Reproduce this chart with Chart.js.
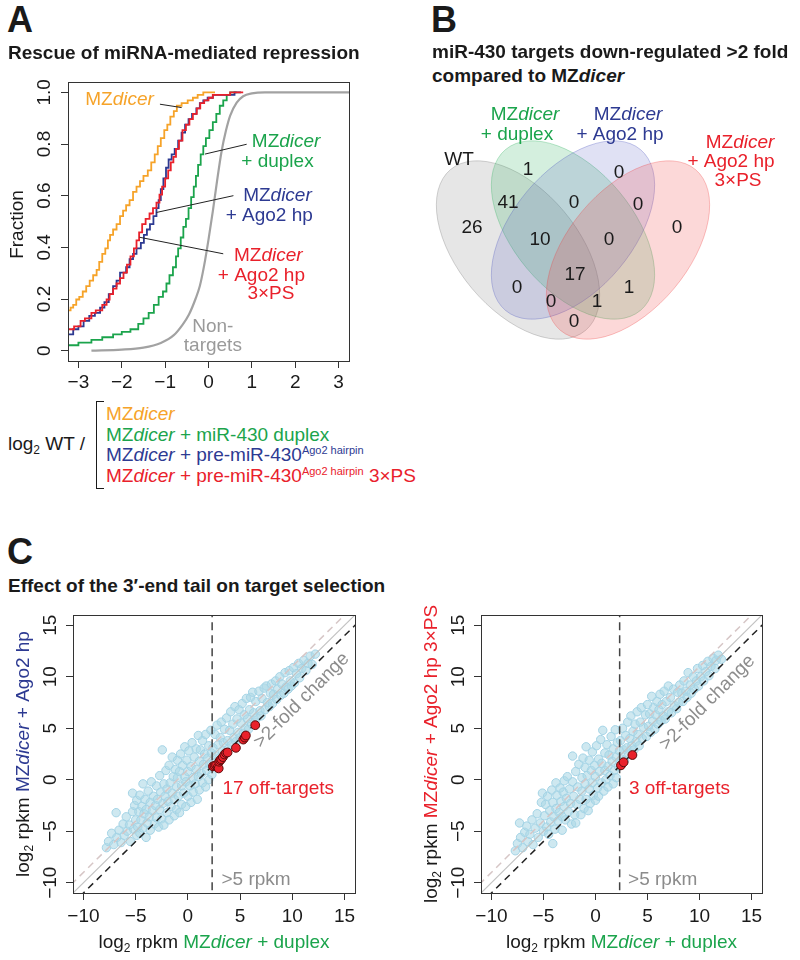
<!DOCTYPE html>
<html>
<head>
<meta charset="utf-8">
<script src="https://cdn.jsdelivr.net/npm/chart.js@4.4.1/dist/chart.umd.min.js"></script>
<style>
  body { margin: 0; background: #fff; }
  #page { position: relative; width: 800px; height: 960px; font-family: 'Liberation Sans', Arial, Helvetica, sans-serif; color: #1a1a1a; }
  canvas { position: absolute; }
  .abs { position: absolute; white-space: nowrap; }
  .big { font-weight: bold; font-size: 36px; line-height: 36px; }
  .ttl { font-weight: bold; font-size: 19px; line-height: 19px; }
  .txt { font-size: 19px; line-height: 19px; }
  .sub { font-size: 12px; line-height: 0; vertical-align: -4px; }
  .sup { font-size: 11px; line-height: 0; vertical-align: 7px; }
  #bracket { position: absolute; left: 96px; top: 401px; width: 7px; height: 86px;
             border: 1.5px solid #1a1a1a; border-right: none; }
</style>
</head>
<body>
<div id="page">
  <canvas id="chartA" width="400" height="340" style="left:0;top:60px"></canvas>
  <canvas id="chartB" width="400" height="270" style="left:400px;top:90px"></canvas>
  <canvas id="chartC1" width="400" height="360" style="left:0;top:600px"></canvas>
  <canvas id="chartC2" width="400" height="360" style="left:400px;top:600px"></canvas>

  <div class="abs big" style="left:7px;top:2px">A</div>
  <div class="abs ttl" style="left:8px;top:43px">Rescue of miRNA-mediated repression</div>
  <div class="abs big" style="left:431px;top:2px">B</div>
  <div class="abs ttl" style="left:432px;top:42px">miR-430 targets down-regulated &gt;2 fold</div>
  <div class="abs ttl" style="left:432px;top:66px">compared to MZ<i>dicer</i></div>
  <div class="abs big" style="left:7px;top:534px">C</div>
  <div class="abs ttl" style="left:8px;top:576px">Effect of the 3′-end tail on target selection</div>

  <div class="abs txt" style="left:8px;top:434px">log<span class="sub">2</span> WT /</div>
  <div id="bracket"></div>
  <div class="abs txt" style="left:106px;top:404px;color:#f6a329">MZ<i>dicer</i></div>
  <div class="abs txt" style="left:106px;top:425px;color:#1ba44c">MZ<i>dicer</i> + miR-430 duplex</div>
  <div class="abs txt" style="left:106px;top:445px;color:#2d3a92">MZ<i>dicer</i> + pre-miR-430<span class="sup">Ago2 hairpin</span></div>
  <div class="abs txt" style="left:106px;top:466px;color:#e9212b">MZ<i>dicer</i> + pre-miR-430<span class="sup">Ago2 hairpin</span> 3×PS</div>
</div>

<script>
// ---- Panel A: cumulative fraction of log2 WT / condition
const dicerX = [-3.24, -3.18, -3.12, -3.05, -2.98, -2.9, -2.82, -2.74, -2.66, -2.58, -2.52, -2.45, -2.38, -2.32, -2.27, -2.2, -2.12, -2.04, -1.97, -1.9, -1.82, -1.74, -1.66, -1.58, -1.5, -1.4, -1.32, -1.24, -1.17, -1.1, -1.02, -0.95, -0.88, -0.8, -0.73, -0.62, -0.48, -0.36, -0.25, -0.12, 0.15];
const dicerY = [0.146, 0.156, 0.167, 0.177, 0.198, 0.208, 0.229, 0.25, 0.271, 0.292, 0.313, 0.344, 0.375, 0.396, 0.427, 0.448, 0.469, 0.49, 0.521, 0.542, 0.563, 0.583, 0.615, 0.635, 0.656, 0.677, 0.698, 0.729, 0.76, 0.792, 0.823, 0.854, 0.875, 0.906, 0.927, 0.948, 0.958, 0.969, 0.979, 0.99, 1.0];

const duplexX = [-3.24, -3.0, -2.7, -2.45, -2.2, -2.0, -1.8, -1.62, -1.5, -1.38, -1.26, -1.15, -1.05, -0.97, -0.9, -0.82, -0.75, -0.7, -0.64, -0.58, -0.52, -0.46, -0.4, -0.34, -0.29, -0.24, -0.18, -0.12, -0.06, 0.02, 0.1, 0.18, 0.26, 0.34, 0.42, 0.5, 0.65];
const duplexY = [0.01, 0.021, 0.031, 0.042, 0.052, 0.063, 0.073, 0.083, 0.104, 0.125, 0.146, 0.177, 0.208, 0.229, 0.26, 0.292, 0.323, 0.365, 0.396, 0.438, 0.479, 0.51, 0.552, 0.594, 0.635, 0.677, 0.719, 0.76, 0.792, 0.823, 0.854, 0.885, 0.917, 0.948, 0.969, 0.99, 1.0];

const hpX = [-3.24, -3.12, -3.0, -2.88, -2.75, -2.62, -2.5, -2.4, -2.3, -2.2, -2.12, -2.04, -1.9, -1.82, -1.74, -1.66, -1.56, -1.49, -1.42, -1.35, -1.27, -1.2, -1.15, -1.1, -1.04, -0.98, -0.92, -0.85, -0.78, -0.7, -0.62, -0.54, -0.46, -0.38, -0.28, -0.2, -0.12, -0.02, 0.1, 0.22, 0.6, 0.75];
const hpY = [0.052, 0.063, 0.083, 0.094, 0.115, 0.135, 0.146, 0.167, 0.188, 0.219, 0.25, 0.271, 0.302, 0.323, 0.354, 0.375, 0.396, 0.417, 0.448, 0.469, 0.49, 0.521, 0.552, 0.583, 0.625, 0.667, 0.708, 0.74, 0.76, 0.781, 0.813, 0.844, 0.875, 0.896, 0.917, 0.938, 0.958, 0.969, 0.979, 0.99, 0.99, 1.0];

const hpPsX = [-3.24, -3.1, -2.95, -2.85, -2.7, -2.6, -2.45, -2.35, -2.28, -2.2, -2.12, -2.04, -1.96, -1.88, -1.8, -1.72, -1.66, -1.6, -1.53, -1.45, -1.36, -1.28, -1.2, -1.13, -1.07, -1.0, -0.93, -0.87, -0.81, -0.75, -0.68, -0.6, -0.52, -0.44, -0.36, -0.27, -0.19, -0.1, 0.0, 0.1, 0.2, 0.5, 0.8];
const hpPsY = [0.073, 0.083, 0.094, 0.115, 0.125, 0.146, 0.156, 0.177, 0.198, 0.219, 0.24, 0.26, 0.281, 0.302, 0.333, 0.365, 0.396, 0.427, 0.458, 0.49, 0.51, 0.531, 0.552, 0.573, 0.604, 0.635, 0.667, 0.698, 0.729, 0.75, 0.781, 0.813, 0.854, 0.875, 0.896, 0.917, 0.938, 0.958, 0.969, 0.979, 0.99, 0.99, 1.0];

const nonTargetX = [-2.7, -2.0, -1.5, -1.1, -0.8, -0.6, -0.45, -0.3, -0.2, -0.1, 0.0, 0.1, 0.2, 0.3, 0.4, 0.5, 0.65, 0.8, 1.0, 1.3, 3.24];
const nonTargetY = [0.0, 0.004, 0.012, 0.03, 0.06, 0.1, 0.14, 0.2, 0.25, 0.33, 0.43, 0.54, 0.66, 0.77, 0.85, 0.91, 0.96, 0.985, 0.996, 1.0, 1.0];

const aTicksX = [-3, -2, -1, 0, 1, 2, 3];
const aLabelsX = ['\u22123', '\u22122', '\u22121', '0', '1', '2', '3'];
const aTicksY = [0, 0.2, 0.4, 0.6, 0.8, 1.0];
const aLabelsY = ['0', '0.2', '0.4', '0.6', '0.8', '1.0'];

// ---- Panel B: Venn region counts
const vennCounts = [26, 1, 0, 0, 41, 0, 0, 10, 0, 17, 0, 1, 0, 1, 0];

// ---- Panel C: log2 rpkm, x = MZdicer + duplex, y = condition
const hpCloud = [
  [-7.8,-6.6],[-7.6,-6.0],[-7.3,-5.2],[-7.1,-6.3],[-6.87,-3.2],[-6.8,-5.6],[-6.6,-4.9],[-6.4,-6.1],[-6.2,-4.3],[-6.1,-5.4],[-5.9,-3.6],[-5.8,-5.0],[-5.6,-4.4],[-5.5,-6.0],[-5.3,-1.3],[-5.3,-3.1],[-5.2,-4.8],[-5.1,-2.5],
  [-5.0,-3.9],[-4.9,-5.4],[-4.9,-2.0],[-4.8,-4.6],[-4.7,-3.1],[-4.6,-1.5],[-4.6,-5.2],[-4.5,-3.9],[-4.4,-2.6],[-4.3,-0.4],[-4.3,-4.7],[-4.2,-3.3],[-4.1,-1.9],[-4.0,-5.6],[-4.0,-2.9],[-3.9,-4.2],[-3.8,-1.1],[-3.7,-3.6],[-3.6,-2.2],[-3.6,-4.9],[-3.5,-0.2],[-3.4,-3.0],[-3.3,-1.6],[-3.2,-4.3],[-3.1,-2.5],[-3.0,-0.6],[-3.0,-3.7],
  [-2.9,-1.9],[-2.8,-4.6],[-2.7,-2.9],[-2.7,0.4],[-2.6,-1.2],[-2.5,-3.8],[-2.45,2.9],[-2.4,-2.3],[-2.3,-0.4],[-2.3,-4.4],[-2.2,-1.6],[-2.1,0.9],[-2.0,-3.2],[-2.0,-0.9],[-1.9,-2.1],[-1.8,1.4],[-1.8,-3.9],[-1.7,-0.3],[-1.6,-2.6],[-1.5,-1.3],[-1.5,2.2],[-1.4,0.3],[-1.3,-3.5],[-1.3,-1.9],[-1.2,1.0],[-1.1,-0.7],[-1.1,-2.9],[-1.0,0.2],[-1.0,1.9],
  [-0.9,-1.6],[-0.8,-3.2],[-0.8,0.8],[-0.7,2.5],[-0.6,-0.6],[-0.6,-2.4],[-0.5,1.4],[-0.4,-1.3],[-0.3,0.3],[-0.3,3.2],[-0.2,-2.6],[-0.2,-0.2],[-0.1,1.9],[0.0,0.8],[0.0,-1.6],[0.1,2.8],[0.2,-0.6],[0.3,-2.2],[0.3,1.3],[0.4,3.6],[0.5,0.2],[0.5,-1.2],[0.6,2.2],[0.7,-0.4],[0.8,1.0],[0.8,3.0],[0.9,-1.9],[1.0,0.3],[1.0,4.3],
  [1.1,1.8],[1.1,-1.0],[1.2,2.9],[1.3,0.6],[1.4,3.8],[1.4,-0.3],[1.5,1.5],[1.6,2.5],[1.7,-0.7],[1.7,4.4],[1.8,0.9],[1.9,2.1],[2.0,3.3],[2.0,0.0],[2.1,1.5],[2.2,4.8],[2.25,2.6],[2.3,0.5],
  [2.4,3.1],[2.5,1.7],[2.6,4.4],[2.7,2.3],[2.8,5.3],[2.9,3.4],[3.0,2.1],[3.1,4.1],[3.2,5.6],[3.3,2.8],[3.4,3.6],[3.5,4.9],[3.6,2.7],[3.7,6.0],[3.8,3.8],[3.9,3.0],[4.0,4.8],[4.1,6.6],[4.2,3.4],[4.3,5.4],[4.4,4.1],[4.5,7.1],[4.6,3.7],[4.7,5.9],[4.8,4.6],[4.9,6.8],[5.0,4.1],
  [5.1,5.5],[5.2,7.4],[5.3,4.5],[5.4,6.3],[5.5,5.0],[5.6,7.9],[5.7,5.9],[5.8,4.9],[5.9,6.8],[6.0,8.0],[6.1,5.4],[6.2,8.5],[6.3,6.5],[6.4,5.6],[6.5,7.6],[6.6,6.0],[6.8,8.6],[6.9,6.7],[7.0,6.2],[7.1,7.9],[7.3,8.9],[7.4,6.8],[7.5,9.1],[7.6,7.5],[7.8,7.1],[7.9,8.4],
  [8.0,9.3],[8.1,7.4],[8.2,8.3],[8.4,9.6],[8.5,7.8],[8.6,8.8],[8.8,10.0],[8.9,8.2],[9.0,9.3],[9.2,8.4],[9.3,10.4],[9.4,9.0],[9.6,8.8],[9.7,10.6],[9.8,9.6],[9.9,9.1],
  [10.1,10.9],[10.2,9.4],[10.4,10.3],[10.6,11.3],[10.7,9.9],[10.9,10.8],[11.1,11.6],[11.3,10.6],[11.5,11.3],[11.7,12.0],[11.9,11.2],[12.2,12.2]
];
const hpOffTargets = [[2.4,1.3],[2.55,1.35],[2.7,1.4],[2.85,1.2],[2.95,1.1],[3.0,1.75],[3.1,1.9],[3.2,2.0],[3.35,2.2],[3.5,2.45],[3.65,2.6],[3.8,2.65],[4.6,3.1],[5.3,3.9],[5.45,4.1],[5.55,4.3],[6.45,5.3]];

const psCloud = [
  [-7.7,-6.9],[-7.5,-6.2],[-7.3,-4.2],[-7.2,-5.6],[-7.0,-6.6],[-6.8,-5.1],[-6.6,-4.5],[-6.5,-6.0],[-6.3,-5.3],[-6.1,-3.9],[-6.0,-6.3],[-5.8,-4.7],[-5.6,-3.3],[-5.5,-5.6],[-5.3,-4.2],[-5.2,-2.2],[-5.1,-1.3],[-5.0,-5.0],
  [-4.9,-3.5],[-4.8,-2.4],[-4.7,-4.6],[-4.6,-1.6],[-4.5,-5.3],[-4.4,-3.0],[-4.3,-4.1],[-4.2,-1.0],[-4.1,-6.2],[-4.1,-2.2],[-4.0,-3.6],[-3.9,-4.8],[-3.8,-0.3],[-3.8,-2.8],[-3.7,-1.5],[-3.6,-4.0],[-3.5,-3.2],[-3.4,-0.8],[-3.3,-2.1],[-3.2,-4.9],[-3.2,-3.6],[-3.1,-1.2],[-3.0,-2.6],[-3.0,-0.1],
  [-2.9,-3.9],[-2.8,-1.8],[-2.7,0.3],[-2.6,-3.1],[-2.5,-0.9],[-2.4,-2.3],[-2.3,-4.3],[-2.2,2.3],[-2.2,-0.2],[-2.1,-1.6],[-2.0,-3.4],[-1.9,0.8],[-1.9,-4.2],[-1.8,-2.4],[-1.7,-0.7],[-1.6,1.5],[-1.5,-1.9],[-1.4,-3.4],[-1.3,0.2],[-1.3,-1.1],[-1.2,2.1],[-1.1,-2.8],[-1.0,-0.4],[-1.0,1.2],
  [-0.9,3.2],[-0.9,-1.9],[-0.8,0.4],[-0.7,-3.0],[-0.6,-0.9],[-0.6,1.9],[-0.5,-2.3],[-0.4,0.9],[-0.3,-0.3],[-0.3,2.7],[-0.2,-1.5],[-0.1,1.4],[0.0,-2.0],[0.0,0.3],[0.1,3.3],[0.2,-0.8],[0.3,-1.6],[0.3,2.0],[0.4,0.8],[0.5,3.9],[0.6,-0.3],[0.6,1.6],[0.7,4.8],[0.8,-1.1],[0.9,0.9],[0.9,2.6],[1.0,0.0],
  [1.1,3.4],[1.2,1.3],[1.2,-0.7],[1.3,2.4],[1.4,0.4],[1.5,4.2],[1.6,1.8],[1.7,-0.4],[1.7,3.0],[1.8,0.9],[1.9,4.85],[2.0,2.2],[2.0,0.2],[2.1,3.6],[2.2,1.3],[2.3,2.8],
  [2.4,3.8],[2.5,2.0],[2.6,5.0],[2.7,2.9],[2.8,1.9],[2.9,4.3],[3.0,3.1],[3.1,5.6],[3.2,2.5],[3.3,4.0],[3.4,6.2],[3.5,3.3],[3.6,4.7],[3.7,2.9],[3.8,5.4],[3.9,3.7],[4.0,6.6],[4.1,4.4],[4.2,3.3],[4.3,5.6],[4.4,7.0],[4.5,4.0],[4.6,5.1],[4.8,6.3],[4.9,4.2],[5.0,7.3],
  [5.1,5.2],[5.2,6.4],[5.3,4.6],[5.4,8.1],[5.5,5.7],[5.6,7.0],[5.7,4.9],[5.8,6.3],[5.9,7.6],[6.0,5.4],[6.1,6.8],[6.2,8.3],[6.3,5.7],[6.4,7.3],[6.5,6.2],[6.6,8.6],[6.7,5.9],[6.8,7.6],[7.0,9.1],[7.0,6.6],[7.2,8.0],[7.3,6.5],[7.5,8.8],[7.6,7.2],[7.8,6.9],[7.9,8.5],
  [8.0,7.5],[8.1,9.2],[8.3,8.4],[8.4,7.6],[8.5,9.6],[8.7,8.6],[8.8,8.0],[8.9,10.4],[9.1,9.2],[9.2,8.4],[9.4,10.0],[9.5,8.8],[9.7,9.6],[9.8,10.8],[9.9,9.1],
  [10.1,10.0],[10.3,11.1],[10.4,9.6],[10.6,10.5],[10.8,11.5],[10.9,10.1],[11.1,11.0],[11.3,11.8],[11.5,10.8],[11.6,11.6],[11.8,12.1],[12.1,11.7]
];
const psOffTargets = [[2.45,1.4],[2.7,1.7],[3.55,2.4]];

const cTicks = [-10, -5, 0, 5, 10, 15];
const cLabels = ['\u221210', '\u22125', '0', '5', '10', '15'];
const foldOffsets = [0, 1, -1];      // y = x, y = x + 1, y = x - 1 (2-fold)
const rpkmCut = Math.log2(5);        // >5 rpkm

// ---- styling
const FONT = "'Liberation Sans', Arial, Helvetica, sans-serif";
const ORANGE = '#f6a329', GREEN = '#1ba44c', BLUE = '#2d3a92', RED = '#e9212b', INK = '#1a1a1a', NOTE = '#8c8c8c';

Chart.defaults.font.family = FONT;
Chart.defaults.animation = false;

function fontOf(p, size) {
  const s = p.sub ? Math.round(size * 0.63) : size;
  return (p.i ? 'italic ' : '') + s + 'px ' + FONT;
}

function richWidth(ctx, parts, size) {
  let w = 0;
  parts.forEach(p => { ctx.font = fontOf(p, size); w += ctx.measureText(p.t).width; });
  return w;
}

// draw a run of differently styled text pieces on one line
function drawRich(ctx, parts, x, y, align, size) {
  const w = richWidth(ctx, parts, size);
  let cx = align === 'center' ? x - w / 2 : (align === 'right' ? x - w : x);
  ctx.textAlign = 'left';
  ctx.textBaseline = 'middle';
  parts.forEach(p => {
    ctx.font = fontOf(p, size);
    ctx.fillStyle = p.c || INK;
    ctx.fillText(p.t, cx, y + (p.sub ? size * 0.3 : 0));
    cx += ctx.measureText(p.t).width;
  });
}

const mz = (c, tail) => [{ t: 'MZ', c }, { t: 'dicer', i: true, c }].concat(tail ? [{ t: tail, c }] : []);
const log2rpkm = [{ t: 'log' }, { t: '2', sub: true }, { t: ' rpkm ' }];

function axis(min, max, ticks, size) {
  return {
    type: 'linear', min, max,
    afterBuildTicks: s => { s.ticks = ticks.map(v => ({ value: v })); },
    afterFit: s => { if (s.isHorizontal()) s.height = size; else s.width = size; },
    grid: { drawOnChartArea: false, drawTicks: true, tickLength: 7, color: '#333', lineWidth: 1 },
    border: { display: false },
    ticks: { display: false }
  };
}

// frame, rotated y labels, axis titles and text notes in R style
function makeDeco(cfg) {
  return {
    id: 'deco',
    afterDatasetsDraw(chart) {
      const { ctx, chartArea: ca, scales: { x, y } } = chart;
      ctx.save();
      ctx.strokeStyle = '#333';
      ctx.lineWidth = 1;
      ctx.strokeRect(Math.round(ca.left) + 0.5, Math.round(ca.top) + 0.5,
        Math.round(ca.right - ca.left), Math.round(ca.bottom - ca.top));

      ctx.font = cfg.size + 'px ' + FONT;
      ctx.fillStyle = INK;
      ctx.textAlign = 'center';
      ctx.textBaseline = 'middle';
      cfg.xTicks.forEach((v, i) => ctx.fillText(cfg.xLabels[i], x.getPixelForValue(v), ca.bottom + cfg.xGap));
      cfg.yTicks.forEach((v, i) => {
        ctx.save();
        ctx.translate(ca.left - cfg.yGap, y.getPixelForValue(v));
        ctx.rotate(-Math.PI / 2);
        ctx.fillText(cfg.yLabels[i], 0, 0);
        ctx.restore();
      });

      if (cfg.xTitle) drawRich(ctx, cfg.xTitle, (ca.left + ca.right) / 2, ca.bottom + cfg.xTitleGap, 'center', cfg.size);
      if (cfg.yTitle) {
        ctx.save();
        ctx.translate(ca.left - cfg.yTitleGap, (ca.top + ca.bottom) / 2 + (cfg.yTitleShift || 0));
        ctx.rotate(-Math.PI / 2);
        drawRich(ctx, cfg.yTitle, 0, 0, 'center', cfg.size);
        ctx.restore();
      }

      ctx.strokeStyle = '#222';
      (cfg.leaders || []).forEach(l => {
        ctx.beginPath();
        ctx.moveTo(x.getPixelForValue(l[0]), y.getPixelForValue(l[1]));
        ctx.lineTo(x.getPixelForValue(l[2]), y.getPixelForValue(l[3]));
        ctx.stroke();
      });
      (cfg.notes || []).forEach(n => {
        ctx.save();
        ctx.translate(x.getPixelForValue(n.x), y.getPixelForValue(n.y));
        if (n.rot) ctx.rotate(n.rot);
        drawRich(ctx, n.parts, 0, 0, n.align || 'center', cfg.size);
        ctx.restore();
      });
      ctx.restore();
    }
  };
}

const baseOptions = {
  responsive: false,
  animation: false,
  devicePixelRatio: 1,
  events: [],
  plugins: { legend: { display: false }, tooltip: { enabled: false } }
};

// ---------------- Panel A
const ecdf = (xs, ys) => xs.map((v, i) => ({ x: v, y: ys[i] }));
const stepLine = { pointRadius: 0, borderWidth: 1.8, fill: false, stepped: 'after' };

new Chart(document.getElementById('chartA'), {
  type: 'line',
  data: {
    datasets: [
      { ...stepLine, data: ecdf(hpPsX, hpPsY), borderColor: RED, order: 0 },
      { ...stepLine, data: ecdf(hpX, hpY), borderColor: BLUE, order: 1 },
      { ...stepLine, data: ecdf(dicerX, dicerY), borderColor: ORANGE, order: 2 },
      { ...stepLine, data: ecdf(duplexX, duplexY), borderColor: GREEN, order: 3 },
      { data: ecdf(nonTargetX, nonTargetY), borderColor: '#a2a2a2', borderWidth: 2.2, pointRadius: 0,
        fill: false, cubicInterpolationMode: 'monotone', order: 4 }
    ]
  },
  options: {
    ...baseOptions,
    layout: { padding: { left: 38, right: 51, top: 22, bottom: 9 } },
    scales: { x: axis(-3.24, 3.24, aTicksX, 30), y: axis(-0.04, 1.04, aTicksY, 30) }
  },
  plugins: [makeDeco({
    size: 19, xTicks: aTicksX, xLabels: aLabelsX, yTicks: aTicksY, yLabels: aLabelsY,
    xGap: 22, yGap: 23, yTitle: [{ t: 'Fraction' }], yTitleGap: 50, yTitleShift: 3,
    leaders: [[-1.12, 0.954, -0.62, 0.941], [0.88, 0.799, -0.08, 0.761], [0.575, 0.6, -1.2, 0.535], [0.34, 0.375, -1.59, 0.439]],
    notes: [
      { parts: mz(ORANGE), x: -2.05, y: 0.973 },
      { parts: mz(GREEN), x: 1.79, y: 0.807 },
      { parts: [{ t: '+ duplex', c: GREEN }], x: 1.59, y: 0.73 },
      { parts: mz(BLUE), x: 1.59, y: 0.598 },
      { parts: [{ t: '+ Ago2 hp', c: BLUE }], x: 1.4, y: 0.521 },
      { parts: mz(RED), x: 1.38, y: 0.367 },
      { parts: [{ t: '+ Ago2 hp', c: RED }], x: 1.22, y: 0.29 },
      { parts: [{ t: '3×PS', c: RED }], x: 1.44, y: 0.22 },
      { parts: [{ t: 'Non-', c: '#9a9a9a' }], x: 0.1, y: 0.093 },
      { parts: [{ t: 'targets', c: '#9a9a9a' }], x: 0.1, y: 0.02 }
    ]
  })]
});

// ---------------- Panel B (Venn)
const vennSpots = [[472,228],[528,170],[619,173],[677,228],[508,203],[574,203],[638,205],[540,240],[609,240],[575,275],[517,288],[629,288],[551,302],[597,302],[574,322]];
const vennShapes = [
  { cx: 518, cy: 250, rot: 50, fill: 'rgba(140,140,140,0.22)', line: 'rgba(130,130,130,0.35)' },
  { cx: 573, cy: 230, rot: 50, fill: 'rgba(40,175,90,0.2)', line: 'rgba(40,175,90,0.3)' },
  { cx: 573, cy: 230, rot: -50, fill: 'rgba(70,80,190,0.17)', line: 'rgba(70,80,190,0.3)' },
  { cx: 628, cy: 250, rot: -50, fill: 'rgba(240,60,60,0.2)', line: 'rgba(240,60,60,0.3)' }
];
const vennNames = [
  { parts: [{ t: 'WT' }], x: 459, y: 160 },
  { parts: mz(GREEN), x: 525, y: 115 }, { parts: [{ t: '+ duplex', c: GREEN }], x: 517, y: 135 },
  { parts: mz(BLUE), x: 628, y: 115 }, { parts: [{ t: '+ Ago2 hp', c: BLUE }], x: 620, y: 135 },
  { parts: mz(RED), x: 740, y: 143 }, { parts: [{ t: '+ Ago2 hp', c: RED }], x: 731, y: 162 },
  { parts: [{ t: '3×PS', c: RED }], x: 738, y: 181 }
];

const vennPlugin = {
  id: 'venn',
  beforeDatasetsDraw(chart) {
    const { ctx, scales: { x, y } } = chart;
    const sx = Math.abs(x.getPixelForValue(1) - x.getPixelForValue(0));
    const sy = Math.abs(y.getPixelForValue(1) - y.getPixelForValue(0));
    ctx.save();
    vennShapes.forEach(s => {
      ctx.beginPath();
      ctx.ellipse(x.getPixelForValue(s.cx), y.getPixelForValue(s.cy), 105 * sx, 60 * sy, s.rot * Math.PI / 180, 0, Math.PI * 2);
      ctx.fillStyle = s.fill;
      ctx.fill();
      ctx.strokeStyle = s.line;
      ctx.lineWidth = 1;
      ctx.stroke();
    });
    ctx.restore();
  },
  afterDatasetsDraw(chart) {
    const { ctx, scales: { x, y } } = chart;
    const meta = chart.getDatasetMeta(0);
    ctx.save();
    ctx.font = '19px ' + FONT;
    ctx.fillStyle = INK;
    ctx.textAlign = 'center';
    ctx.textBaseline = 'middle';
    meta.data.forEach((pt, i) => ctx.fillText(String(vennCounts[i]), pt.x, pt.y));
    vennNames.forEach(n => drawRich(ctx, n.parts, x.getPixelForValue(n.x), y.getPixelForValue(n.y), 'center', 19));
    ctx.restore();
  }
};

new Chart(document.getElementById('chartB'), {
  type: 'scatter',
  data: { datasets: [{ data: vennSpots.map(p => ({ x: p[0], y: p[1] })), pointRadius: 0 }] },
  options: {
    ...baseOptions,
    layout: { padding: 0 },
    scales: {
      x: { type: 'linear', min: 400, max: 800, display: false },
      y: { type: 'linear', min: 90, max: 360, reverse: true, display: false }
    }
  },
  plugins: [vennPlugin]
});

// ---------------- Panel C
function cDatasets(cloud, hits) {
  const diag = k => [{ x: -12, y: -12 + k }, { x: 17, y: 17 + k }];
  const refLine = { showLine: true, pointRadius: 0, fill: false };
  return [
    { data: cloud.map(p => ({ x: p[0], y: p[1] })), pointRadius: 4.2, borderWidth: 1,
      borderColor: '#a3d3e5', backgroundColor: 'rgba(173,216,230,0.6)', order: 10 },
    { ...refLine, data: diag(foldOffsets[0]), borderColor: '#c2c2c2', borderWidth: 1.2, order: 6 },
    { ...refLine, data: diag(foldOffsets[1]), borderColor: '#d6c6c6', borderWidth: 1.5, borderDash: [7, 5], order: 5 },
    { ...refLine, data: diag(foldOffsets[2]), borderColor: '#222', borderWidth: 1.5, borderDash: [7, 5], order: 4 },
    { ...refLine, data: [{ x: rpkmCut, y: -12 }, { x: rpkmCut, y: 17 }], borderColor: '#444', borderWidth: 1.5, borderDash: [8, 5], order: 3 },
    { data: hits.map(p => ({ x: p[0], y: p[1] })), pointRadius: 4.4, borderWidth: 1,
      borderColor: '#5b0b0b', backgroundColor: RED, order: 0 }
  ];
}

function cChart(id, cloud, hits, padLeft, padRight, yTitle, notes) {
  new Chart(document.getElementById(id), {
    type: 'scatter',
    data: { datasets: cDatasets(cloud, hits) },
    options: {
      ...baseOptions,
      layout: { padding: { left: padLeft, right: padRight, top: 15, bottom: 37 } },
      scales: { x: axis(-11, 16, cTicks, 30), y: axis(-11, 16, cTicks, 35) }
    },
    plugins: [makeDeco({
      size: 19, xTicks: cTicks, xLabels: cLabels, yTicks: cTicks, yLabels: cLabels,
      xGap: 24, yGap: 22,
      xTitle: log2rpkm.concat(mz(GREEN, ' + duplex')), xTitleGap: 50,
      yTitle: yTitle, yTitleGap: 49,
      notes: notes
    })]
  });
}

cChart('chartC1', hpCloud, hpOffTargets, 38, 45,
  log2rpkm.concat(mz(BLUE, ' + Ago2 hp')),
  [
    { parts: [{ t: '>2-fold change', c: NOTE }], x: 10.9, y: 7.7, rot: -Math.PI / 4 },
    { parts: [{ t: hpOffTargets.length + ' off-targets', c: RED }], x: 3.31, y: -0.86, align: 'left' },
    { parts: [{ t: '>5 rpkm', c: NOTE }], x: 3.22, y: -9.7, align: 'left' }
  ]);

cChart('chartC2', psCloud, psOffTargets, 46, 38,
  log2rpkm.concat(mz(RED, ' + Ago2 hp 3×PS')),
  [
    { parts: [{ t: '>2-fold change', c: NOTE }], x: 10.75, y: 7.48, rot: -Math.PI / 4 },
    { parts: [{ t: psOffTargets.length + ' off-targets', c: RED }], x: 3.21, y: -0.86, align: 'left' },
    { parts: [{ t: '>5 rpkm', c: NOTE }], x: 3.13, y: -9.7, align: 'left' }
  ]);
</script>
</body>
</html>
